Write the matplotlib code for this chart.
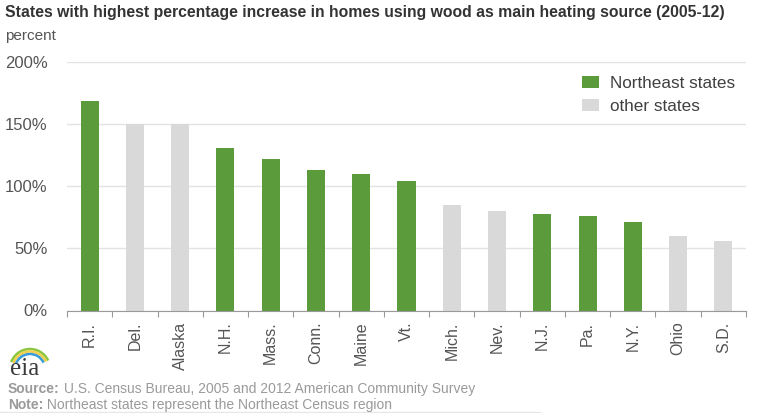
import numpy as np
import matplotlib.pyplot as plt
from matplotlib.patches import Patch, Arc

plt.rcParams['font.family'] = ['Liberation Sans', 'DejaVu Sans']

# dados
states = ['R.I.', 'Del.', 'Alaska', 'N.H.', 'Mass.', 'Conn.', 'Maine', 'Vt.',
          'Mich.', 'Nev.', 'N.J.', 'Pa.', 'N.Y.', 'Ohio', 'S.D.']
increase = [169, 150, 150, 131, 122, 113, 110, 104, 85, 80, 78, 76, 71, 60, 56]
northeast = [True, False, False, True, True, True, True, True,
             False, False, True, True, True, False, False]

GREEN = '#5b9b3c'
GRAY = '#d9d9d9'
TEXT = '#555555'
W, H = 759, 413

fig = plt.figure(figsize=(W / 100, H / 100), dpi=100)
ax = fig.add_axes([67 / W, 1 - 310.5 / H, (746 - 67) / W, (310.5 - 62) / H])

x = np.arange(len(states))
colors = [GREEN if ne else GRAY for ne in northeast]
ax.bar(x, increase, width=0.4, color=colors, zorder=3)

ax.set_xlim(-0.5, len(states) - 0.5)
ax.set_ylim(0, 200)
ax.set_yticks([0, 50, 100, 150, 200])
ax.set_yticklabels(['0%', '50%', '100%', '150%', '200%'], fontsize=12, color=TEXT)
ax.yaxis.grid(True, color='#e3e3e3', linewidth=1, zorder=0)
ax.tick_params(axis='y', length=0, pad=14)

# ticks nas divisões entre categorias
ax.set_xticks(np.arange(-0.5, len(states), 1))
ax.set_xticklabels([])
ax.set_xticks(x, minor=True)
ax.set_xticklabels(states, minor=True, rotation=90, fontsize=11.5, color=TEXT)
ax.tick_params(axis='x', which='major', length=4, color='#999999', direction='out')
ax.tick_params(axis='x', which='minor', length=0, pad=8)

for side in ['top', 'right', 'left']:
    ax.spines[side].set_visible(False)
ax.spines['bottom'].set_color('#999999')
ax.spines['bottom'].set_zorder(4)

handles = [Patch(facecolor=GREEN, label='Northeast states'),
           Patch(facecolor=GRAY, label='other states')]
fig.legend(handles=handles, loc='upper left', bbox_to_anchor=(582 / W, 1 - 76 / H),
           frameon=False, fontsize=12.3, labelcolor='#404040', handlelength=1.0,
           handleheight=0.72, handletextpad=0.65, labelspacing=0.45, borderaxespad=0,
           borderpad=0)

fig.text(5 / W, 1 - 13 / H, 'States with highest percentage increase in homes using wood as main heating source (2005-12)',
         fontsize=11.3, fontweight='bold', color='#333333', va='center', ha='left')
fig.text(5 / W, 1 - 36 / H, 'percent', fontsize=11, color=TEXT, va='center', ha='left')

# logo eia (coordenadas em pixels, y invertido)
lax = fig.add_axes([0, 1 - 380 / H, 60 / W, 40 / H])
lax.set_xlim(0, 60)
lax.set_ylim(380, 340)
lax.axis('off')
lax.text(10, 369, 'eia', fontsize=18, family='Liberation Serif', color='#3a3a3a',
         va='center', ha='left')
for r, c in [(20, '#8cc63f'), (17.5, '#f2d04a'), (15, '#3a9bd9')]:
    lax.add_patch(Arc((30, 369), 2 * r, 2 * r, theta1=200, theta2=335, color=c, lw=1.8))

fig.canvas.draw()
renderer = fig.canvas.get_renderer()
notes = [(389, 'Source:', ' U.S. Census Bureau, 2005 and 2012 American Community Survey'),
         (405, 'Note:', ' Northeast states represent the Northeast Census region')]
for ypix, head, body in notes:
    t = fig.text(8 / W, 1 - ypix / H, head, fontsize=10, fontweight='bold', color='#9a9a9a',
                 va='center', ha='left')
    bb = t.get_window_extent(renderer)
    fig.text(bb.x1 / W, 1 - ypix / H, body, fontsize=10, color='#9a9a9a', va='center', ha='left')

fig.add_artist(plt.Line2D([0, 540 / W], [1 - 411.5 / H] * 2, color='#e6e6e6', lw=1))

fig.savefig('out.png', dpi=100)
